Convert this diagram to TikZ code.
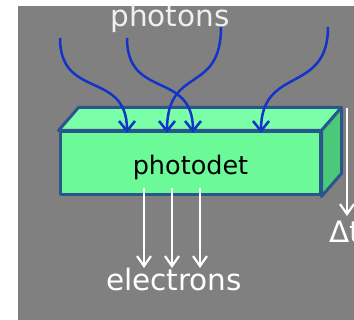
\documentclass[tikz,border=0pt]{standalone}
\usepackage{fontspec}
\setmainfont{DejaVu Sans}
\usetikzlibrary{arrows.meta,positioning}

\definecolor{bggray}{RGB}{128,128,128}
\definecolor{detfront}{RGB}{108,250,152}
\definecolor{dettop}{RGB}{122,255,168}
\definecolor{detside}{RGB}{75,200,120}
\definecolor{detedge}{RGB}{42,86,140}
\definecolor{photonblue}{RGB}{18,52,200}

\tikzset{
  face/.style={draw=detedge, line width=3pt, line join=round},
  photon/.style={photonblue, line width=2.5pt, -{Straight Barb[length=10pt,width=16pt,line width=2.5pt]}},
  electron/.style={white, line width=2.2pt, -{Straight Barb[length=10pt,width=14pt,line width=2.2pt]}},
  bigtext/.style={font=\fontsize{29.5}{31}\selectfont, inner sep=0pt, anchor=base},
}

\begin{document}
\begin{tikzpicture}[x=1pt,y=-1pt]
  \useasboundingbox (0,0) rectangle (354,320);
  \fill[bggray] (18,6) rectangle (354,320);

  % detector block
  \node[face, fill=detfront, minimum width=260pt, minimum height=63pt, inner sep=0pt] (det) at (190,163.5) {};
  \draw[face, fill=dettop] (det.north west) -- ([shift={(20,-23)}]det.north west)
    -- ([shift={(20,-23)}]det.north east) -- (det.north east) -- cycle;
  \draw[face, fill=detside] (det.north east) -- ([shift={(20,-23)}]det.north east)
    -- ([shift={(20,-23)}]det.south east) -- (det.south east) -- cycle;
  \node[font=\fontsize{25.5}{27}\selectfont, inner sep=0pt, anchor=base] (detlabel) at (190.5,175) {photodet};

  % photons
  \node[bigtext, text=white!88!gray] (photons) at (170,27) {photons};
  \coordinate (p1) at (60,38);
  \coordinate (p2) at (127,38);
  \coordinate (p3) at (221,27);
  \coordinate (p4) at (328,27);
  \coordinate (h1) at (127,133);
  \coordinate (h2) at (193,133);
  \coordinate (h3) at (167,133);
  \coordinate (h4) at (261,133);
  \draw[photon] (p1) .. controls (60,100) and (127,70) .. (h1);
  \draw[photon] (p2) .. controls (127,100) and (193,70) .. (h2);
  \draw[photon] (p3) .. controls (221,95) and (167,65) .. (h3);
  \draw[photon] (p4) .. controls (328,95) and (261,65) .. (h4);

  % electrons
  \node[bigtext, text=white] (electrons) at (174,291) {electrons};
  \foreach \ex [count=\i] in {144,172,200} {
    \coordinate (es\i) at (\ex,188);
    \coordinate (ee\i) at (\ex,268);
    \draw[electron] (es\i) -- (ee\i);
  }

  % time spread
  \coordinate (dtop) at (347,108);
  \coordinate (dbot) at (347,216);
  \node[bigtext, text=white, anchor=base west] (dt) at (329,243) {Δt};
  \draw[electron] (dtop) -- (dbot);
\end{tikzpicture}
\end{document}
